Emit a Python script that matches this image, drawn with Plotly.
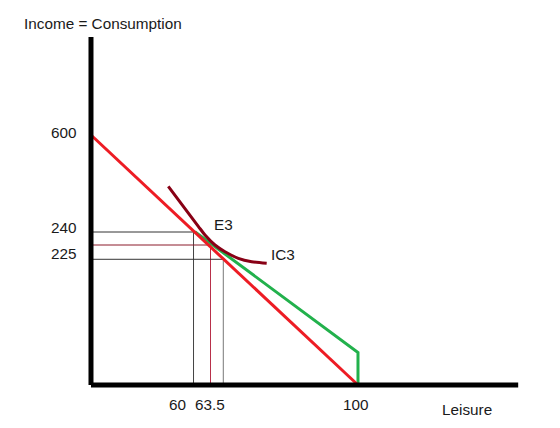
import plotly.graph_objects as go

# ---- data (sketch coordinates: leisure on x, income/consumption on y) ----
axis_x_end = 160
axis_y_end = 835

budget_red_x = [0, 100]
budget_red_y = [600, 0]

budget_green_x = [38.9, 100, 100]
budget_green_y = [367.9, 78, 0]

ic3_x = [28.95, 40.19, 42.70, 46.44, 50.19, 55.17, 60.19, 65.81]
ic3_y = [476.9, 380.9, 360.0, 336.0, 319.9, 304.1, 295.9, 292.1]

# guide lines: (x of vertical, y of horizontal, color)
guide_x = [38.4, 44.76, 49.55]
guide_y = [367.2, 336.0, 301.7]
guide_h_colors = ["#333333", "#8b1a2a", "#333333"]
guide_v_colors = ["#444444", "#b8304a", "#777777"]

# text labels
y_tick_labels = ["600", "240", "225"]
y_tick_pos = [607, 379.2, 316.8]
x_tick_labels = ["60", "63.5", "100"]
x_tick_pos = [32.5, 44.6, 99.1]

fig = go.Figure()

# guide lines
for gx, gy, hc, vc in zip(guide_x, guide_y, guide_h_colors, guide_v_colors):
    fig.add_trace(go.Scatter(x=[0, gx], y=[gy, gy], mode="lines",
                             line=dict(color=hc, width=1), showlegend=False, hoverinfo="skip"))
    fig.add_trace(go.Scatter(x=[gx, gx], y=[0, gy], mode="lines",
                             line=dict(color=vc, width=1), showlegend=False, hoverinfo="skip"))

# green budget constraint
fig.add_trace(go.Scatter(x=budget_green_x, y=budget_green_y, mode="lines",
                         line=dict(color="#22b14c", width=3), showlegend=False))
# red budget line
fig.add_trace(go.Scatter(x=budget_red_x, y=budget_red_y, mode="lines",
                         line=dict(color="#ed1c24", width=3), showlegend=False))
# indifference curve
fig.add_trace(go.Scatter(x=ic3_x, y=ic3_y, mode="lines",
                         line=dict(color="#880015", width=3, shape="spline", smoothing=0.8),
                         showlegend=False))

# axes
fig.add_trace(go.Scatter(x=[0, 0], y=[0, axis_y_end], mode="lines",
                         line=dict(color="black", width=5), showlegend=False))
fig.add_trace(go.Scatter(x=[0, axis_x_end], y=[0, 0], mode="lines",
                         line=dict(color="black", width=5), showlegend=False))

font = dict(family="Arial, Liberation Sans, sans-serif", size=15.3, color="#1a1a1a")

annotations = [
    dict(x=4.5, y=868.8, text="Income = Consumption"),
    dict(x=140.7, y=-57.6, text="Leisure"),
    dict(x=49.8, y=385.2, text="E3"),
    dict(x=71.9, y=314.4, text="IC3"),
]
for t, p in zip(y_tick_labels, y_tick_pos):
    annotations.append(dict(x=-10.1, y=p, text=t))
for t, p in zip(x_tick_labels, x_tick_pos):
    annotations.append(dict(x=p, y=-45.6, text=t))

for a in annotations:
    fig.add_annotation(x=a["x"], y=a["y"], text=a["text"], showarrow=False,
                       xanchor="center", yanchor="middle", font=font)

fig.update_layout(
    width=560, height=428,
    margin=dict(l=0, r=0, t=0, b=0),
    paper_bgcolor="white", plot_bgcolor="white",
    xaxis=dict(range=[-34.08, 175.66], visible=False, fixedrange=True),
    yaxis=dict(range=[-103.2, 924], visible=False, fixedrange=True),
    showlegend=False,
)

fig.write_html("out.html")
